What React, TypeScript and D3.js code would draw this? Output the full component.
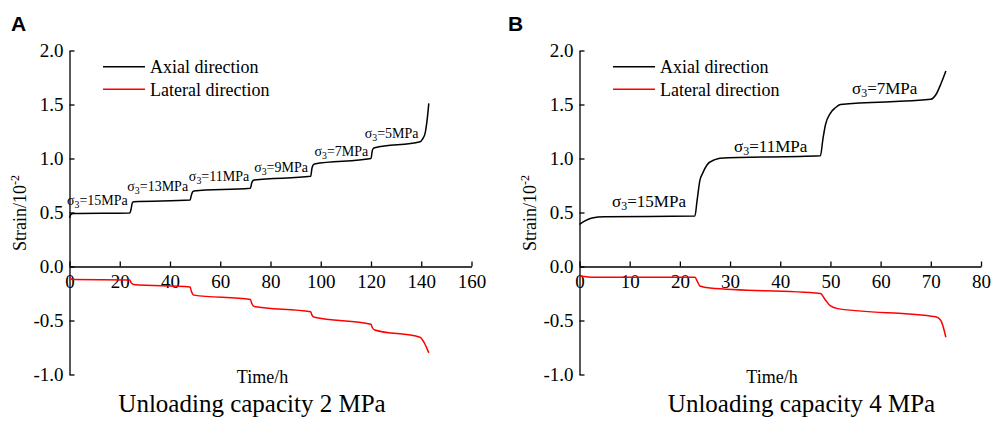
import React, { useEffect, useRef } from "react";
import * as d3 from "d3";

type Pt = [number, number];

const axialA: Pt[] = [
  [0, 0.45], [0.5, 0.48], [1.5, 0.49], [24, 0.495], [24.5, 0.53], [25, 0.59], [25.5, 0.6],
  [48, 0.615], [48.5, 0.66], [49, 0.69], [49.5, 0.7], [72, 0.725], [72.5, 0.77], [73, 0.795],
  [73.5, 0.8], [96, 0.835], [96.5, 0.91], [97, 0.94], [97.5, 0.95], [120, 1.0], [120.5, 1.07],
  [121, 1.095], [121.5, 1.1], [139.5, 1.155], [140.5, 1.18], [141.5, 1.23], [142.3, 1.35], [143, 1.51],
];
const lateralA: Pt[] = [
  [0, -0.09], [1, -0.12], [24, -0.125], [24.5, -0.15], [25.5, -0.167], [48, -0.19], [48.5, -0.23],
  [49.5, -0.265], [72, -0.305], [72.5, -0.34], [73.5, -0.37], [96, -0.42], [96.5, -0.45], [97.5, -0.47],
  [120, -0.535], [120.5, -0.565], [121.5, -0.588], [139.5, -0.655], [140.5, -0.68], [141.5, -0.72],
  [142.3, -0.76], [143, -0.8],
];
const axialB: Pt[] = [
  [0, 0.39], [1, 0.42], [2.5, 0.45], [5, 0.46], [23, 0.467], [23.4, 0.6], [24, 0.8], [24.5, 0.86],
  [25.4, 0.94], [27, 0.99], [28, 1.003], [48, 1.025], [48.5, 1.18], [49, 1.31], [50, 1.42], [51, 1.47],
  [52, 1.5], [70, 1.548], [71, 1.59], [72, 1.69], [73, 1.81],
];
const lateralB: Pt[] = [
  [0, -0.088], [3, -0.1], [23, -0.1], [23.5, -0.14], [24, -0.18], [26, -0.2], [48, -0.25], [49, -0.31],
  [50, -0.365], [51.5, -0.39], [71, -0.465], [72, -0.5], [73, -0.655],
];

const yTicks = [-1, -0.5, 0, 0.5, 1, 1.5, 2];
const yTickLabels = ["-1.0", "-0.5", "0.0", "0.5", "1.0", "1.5", "2.0"];
const xTicksA = [0, 20, 40, 60, 80, 100, 120, 140, 160];
const xTicksB = [0, 10, 20, 30, 40, 50, 60, 70, 80];

const annA: { t: number; v: number; label: string }[] = [
  { t: -1, v: 0.57, label: "15" },
  { t: 23, v: 0.695, label: "13" },
  { t: 47.5, v: 0.79, label: "11" },
  { t: 73.5, v: 0.872, label: "9" },
  { t: 97.5, v: 1.02, label: "7" },
  { t: 117.5, v: 1.187, label: "5" },
];
const annB: { t: number; v: number; label: string }[] = [
  { t: 6.5, v: 0.555, label: "15" },
  { t: 30.8, v: 1.062, label: "11" },
  { t: 54.3, v: 1.6, label: "7" },
];

const FONT = "'Liberation Serif', 'Times New Roman', serif";

interface PanelProps {
  letter: string;
  letterX: number;
  x0: number;
  x1: number;
  xMax: number;
  xTicks: number[];
  axial: Pt[];
  lateral: Pt[];
  ann: { t: number; v: number; label: string }[];
  annSize: number;
  title: string;
  titleX: number;
  timeX: number;
  legendX: number;
}

function Panel(p: PanelProps) {
  const xRef = useRef<SVGGElement>(null);
  const yRef = useRef<SVGGElement>(null);
  const x = d3.scaleLinear().domain([0, p.xMax]).range([p.x0, p.x1]);
  const y = d3.scaleLinear().domain([-1, 2]).range([374.5, 50.5]);

  useEffect(() => {
    const xa = d3.axisBottom(x).tickValues(p.xTicks).tickSizeInner(-5).tickSizeOuter(0).tickPadding(8)
      .tickFormat((d) => String(d));
    const ya = d3.axisLeft(y).tickValues(yTicks).tickSizeInner(-5).tickSizeOuter(0).tickPadding(6)
      .tickFormat((d, i) => yTickLabels[yTicks.indexOf(+d)] ?? String(i));
    const gx = d3.select(xRef.current!).call(xa as any);
    const gy = d3.select(yRef.current!).call(ya as any);
    for (const g of [gx, gy]) {
      g.attr("font-family", FONT).attr("font-size", 19);
      g.selectAll("path,line").attr("stroke", "#000").attr("stroke-width", 1.3);
      g.selectAll("text").attr("fill", "#000");
    }
  }, []);

  const line = d3.line<Pt>().x((d) => x(d[0])).y((d) => y(d[1])).curve(d3.curveMonotoneX);

  return (
    <g>
      <text x={p.letterX} y={31} fontFamily="'Liberation Sans', Arial, sans-serif" fontWeight="bold" fontSize={21}>
        {p.letter}
      </text>
      <g ref={xRef} transform={`translate(0,${y(0)})`} />
      <g ref={yRef} transform={`translate(${x(0)},0)`} />
      <path d={line(p.axial) || ""} fill="none" stroke="#000" strokeWidth={1.5} />
      <path d={line(p.lateral) || ""} fill="none" stroke="#ff0000" strokeWidth={1.5} />
      {p.ann.map((a, i) => (
        <text key={i} x={x(a.t)} y={y(a.v)} fontFamily={FONT} fontSize={p.annSize}>
          σ<tspan fontSize={p.annSize * 0.7} dy={3}>3</tspan>
          <tspan dy={-3}>={a.label}MPa</tspan>
        </text>
      ))}
      <line x1={p.legendX} x2={p.legendX + 42} y1={66.7} y2={66.7} stroke="#000" strokeWidth={1.5} />
      <text x={p.legendX + 47} y={73} fontFamily={FONT} fontSize={18}>Axial direction</text>
      <line x1={p.legendX} x2={p.legendX + 42} y1={89.3} y2={89.3} stroke="#ff0000" strokeWidth={1.5} />
      <text x={p.legendX + 47} y={95.6} fontFamily={FONT} fontSize={18}>Lateral direction</text>
      <text x={p.timeX} y={383} textAnchor="middle" fontFamily={FONT} fontSize={18}>Time/h</text>
      <text x={p.titleX} y={412} textAnchor="middle" fontFamily={FONT} fontSize={25}>{p.title}</text>
      <text transform={`translate(${p.x0 - 44},213) rotate(-90)`} textAnchor="middle" fontFamily={FONT} fontSize={18}>
        Strain/10<tspan fontSize={12} dy={-7}>-2</tspan>
      </text>
    </g>
  );
}

export default function App() {
  return (
    <svg width={992} height={424} style={{ position: "absolute", left: 0, top: 0, background: "#fff" }}>
      <rect width={992} height={424} fill="#fff" />
      <Panel letter="A" letterX={11} x0={69.5} x1={471.5} xMax={160} xTicks={xTicksA}
        axial={axialA} lateral={lateralA} ann={annA} annSize={14}
        title="Unloading capacity 2 MPa" titleX={252} timeX={262.5} legendX={103} />
      <Panel letter="B" letterX={508} x0={579.5} x1={981} xMax={80} xTicks={xTicksB}
        axial={axialB} lateral={lateralB} ann={annB} annSize={17}
        title="Unloading capacity 4 MPa" titleX={801.5} timeX={772} legendX={613} />
    </svg>
  );
}
